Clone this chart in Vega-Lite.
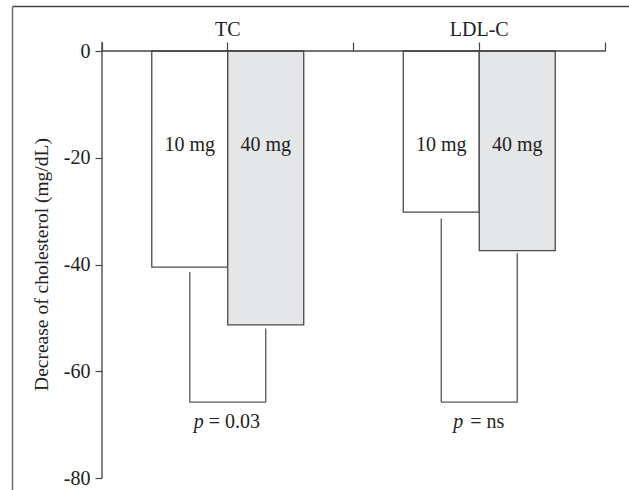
{
  "$schema": "https://vega.github.io/schema/vega-lite/v6.json",
  "width": 617,
  "height": 484,
  "autosize": {"type": "none"},
  "padding": {"left": 12, "top": 6, "right": 0, "bottom": 0},
  "background": "white",
  "config": {
    "view": {"stroke": null},
    "font": "Liberation Serif",
    "axis": {"labelFont": "Liberation Serif", "titleFont": "Liberation Serif", "labelColor": "#222", "titleColor": "#222", "tickColor": "#444", "domainColor": "#555", "grid": false}
  },
  "datasets": {
    "bars": [
      {"group": "TC", "dose": "10 mg", "value": -40.5},
      {"group": "TC", "dose": "40 mg", "value": -51.3},
      {"group": "LDL-C", "dose": "10 mg", "value": -30.2},
      {"group": "LDL-C", "dose": "40 mg", "value": -37.4}
    ],
    "brackets": [
      {"group": "TC", "dose": "10 mg", "start": -41.4, "end": -65.8},
      {"group": "TC", "dose": "40 mg", "start": -52.0, "end": -65.8},
      {"group": "LDL-C", "dose": "10 mg", "start": -31.4, "end": -65.8},
      {"group": "LDL-C", "dose": "40 mg", "start": -37.9, "end": -65.8}
    ],
    "pvals": [
      {"group": "TC", "level": -65.8, "label": "= 0.03"},
      {"group": "LDL-C", "level": -65.8, "label": "= ns"}
    ]
  },
  "resolve": {"axis": {"x": "independent", "y": "independent"}},
  "layer": [
    {
      "data": {"name": "bars"},
      "mark": {"type": "bar", "stroke": "#4a4a4a", "strokeWidth": 1.3},
      "encoding": {
        "x": {"field": "group", "type": "nominal", "sort": null,
          "scale": {"type": "band", "domain": ["TC", "LDL-C"], "paddingInner": 0, "paddingOuter": 0.22664, "align": 0.78947},
          "axis": {"orient": "top", "offset": -45, "domain": false, "ticks": true, "tickSize": 9, "tickWidth": 1.2, "labels": true, "labelFontSize": 20, "labelPadding": 3, "labelAngle": 0, "title": null}},
        "xOffset": {"field": "dose", "type": "nominal",
          "scale": {"type": "band", "domain": ["10 mg", "40 mg"], "paddingInner": 0, "paddingOuter": 0.655}},
        "y": {"field": "value", "type": "quantitative",
          "scale": {"domain": [-82.248, 8.431], "nice": false, "zero": false},
          "axis": {"orient": "left", "offset": -90, "domain": false, "values": [-80, -60, -40, -20, 0], "labelExpr": "datum.value === 0 ? '0' : '-' + abs(datum.value)", "tickSize": 7, "tickWidth": 1.2, "labelPadding": 5, "labelFontSize": 20, "title": "Decrease of cholesterol (mg/dL)", "titleFontSize": 19.5, "titleFontWeight": "normal", "titleX": -61, "titleY": 258, "titleBaseline": "middle"}},
        "y2": {"datum": 0},
        "fill": {"field": "dose", "type": "nominal", "scale": {"domain": ["10 mg", "40 mg"], "range": ["#ffffff", "#e5e6e8"]}, "legend": null}
      }
    },
    {
      "data": {"name": "bars"},
      "mark": {"type": "text", "fontSize": 20, "color": "#222", "align": "center", "baseline": "middle"},
      "encoding": {
        "x": {"field": "group", "type": "nominal",
          "axis": {"orient": "top", "offset": -45, "tickBand": "extent", "domain": false, "labels": false, "ticks": true, "tickSize": 9, "tickWidth": 1.2, "title": null}},
        "xOffset": {"field": "dose", "type": "nominal"},
        "y": {"datum": -17.6, "type": "quantitative",
          "axis": {"orient": "left", "offset": 0, "domain": true, "domainColor": "#6d6d6d", "domainWidth": 1.5, "ticks": false, "labels": false, "title": null}},
        "text": {"field": "dose"}
      }
    },
    {
      "data": {"name": "brackets"},
      "mark": {"type": "rule", "color": "#555", "strokeWidth": 1.3},
      "encoding": {
        "x": {"field": "group", "type": "nominal",
          "axis": {"orient": "top", "offset": 0, "domain": true, "domainColor": "#444", "domainWidth": 1.5, "ticks": false, "labels": false, "title": null}},
        "xOffset": {"field": "dose", "type": "nominal"},
        "y": {"field": "start", "type": "quantitative", "axis": null},
        "y2": {"field": "end"}
      }
    },
    {
      "data": {"name": "pvals"},
      "mark": {"type": "tick", "size": 76, "thickness": 1.3, "color": "#555", "opacity": 1},
      "encoding": {
        "x": {"field": "group", "type": "nominal", "axis": null},
        "y": {"field": "level", "type": "quantitative", "axis": null}
      }
    },
    {
      "data": {"name": "pvals"},
      "mark": {"type": "tick", "size": 251.5, "thickness": 1.3, "color": "#444", "opacity": 1},
      "encoding": {
        "x": {"field": "group", "type": "nominal", "axis": null},
        "y": {"datum": 0, "type": "quantitative", "axis": null}
      }
    },
    {
      "data": {"name": "pvals"},
      "transform": [{"filter": "datum.group === 'TC'"}],
      "mark": {"type": "rule", "color": "#444", "strokeWidth": 1.3},
      "encoding": {
        "x": {"field": "group", "type": "nominal", "bandPosition": 0, "axis": null},
        "y": {"datum": 1.74, "type": "quantitative", "axis": null},
        "y2": {"datum": -80}
      }
    },
    {
      "data": {"name": "pvals"},
      "transform": [{"filter": "datum.group === 'TC'"}],
      "mark": {"type": "text", "text": "p", "fontStyle": "italic", "fontSize": 20, "color": "#222", "align": "right", "baseline": "middle", "dx": -24},
      "encoding": {
        "x": {"field": "group", "type": "nominal", "axis": null},
        "y": {"datum": -69.6, "type": "quantitative", "axis": null}
      }
    },
    {
      "data": {"name": "pvals"},
      "transform": [{"filter": "datum.group === 'TC'"}],
      "mark": {"type": "text", "fontSize": 20, "color": "#222", "align": "left", "baseline": "middle", "dx": -19},
      "encoding": {
        "x": {"field": "group", "type": "nominal", "axis": null},
        "y": {"datum": -69.6, "type": "quantitative", "axis": null},
        "text": {"field": "label"}
      }
    },
    {
      "data": {"name": "pvals"},
      "transform": [{"filter": "datum.group === 'LDL-C'"}],
      "mark": {"type": "text", "text": "p", "fontStyle": "italic", "fontSize": 20, "color": "#222", "align": "right", "baseline": "middle", "dx": -16},
      "encoding": {
        "x": {"field": "group", "type": "nominal", "axis": null},
        "y": {"datum": -69.6, "type": "quantitative", "axis": null}
      }
    },
    {
      "data": {"name": "pvals"},
      "transform": [{"filter": "datum.group === 'LDL-C'"}],
      "mark": {"type": "text", "fontSize": 20, "color": "#222", "align": "left", "baseline": "middle", "dx": -9},
      "encoding": {
        "x": {"field": "group", "type": "nominal", "axis": null},
        "y": {"datum": -69.6, "type": "quantitative", "axis": null},
        "text": {"field": "label"}
      }
    }
  ]
}
